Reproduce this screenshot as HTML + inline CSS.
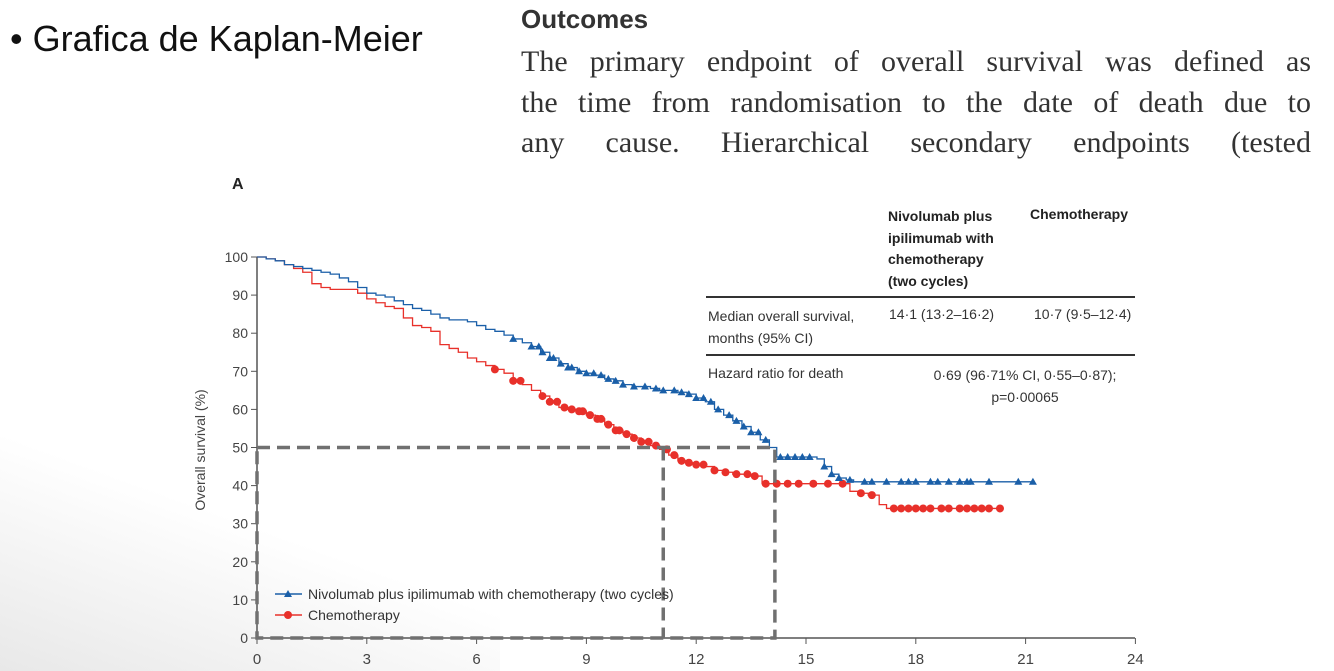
<!DOCTYPE html>
<html><head><meta charset="utf-8"><style>
body{margin:0;width:1334px;height:671px;overflow:hidden;background:#fff;font-family:"Liberation Sans",sans-serif;position:relative}
.abs{position:absolute}
.pl{position:absolute;left:521px;width:790px;font-family:"Liberation Serif",serif;font-size:30px;color:#333;text-align:justify;text-align-last:justify;white-space:nowrap;line-height:34px}
</style></head><body>
<div class="abs" style="left:0;top:420px;width:500px;height:251px;background:linear-gradient(20deg,#e8e8e8 0%,rgba(255,255,255,0) 55%)"></div>
<div class="abs" style="left:10px;top:18px;font-size:36px;color:#111">• Grafica de Kaplan-Meier</div>
<div class="abs" style="left:521px;top:4px;font-size:26px;font-weight:bold;color:#333">Outcomes</div>
<div>
<div class="pl" style="top:45px">The primary endpoint of overall survival was defined as</div>
<div class="pl" style="top:86px">the time from randomisation to the date of death due to</div>
<div class="pl" style="top:126px">any cause. Hierarchical secondary endpoints (tested</div>
</div>
<div class="abs" style="left:232px;top:176px;font-size:16px;font-weight:bold;color:#222">A</div>
<div class="abs" style="left:888px;top:206px;font-size:14px;font-weight:bold;line-height:21.5px;color:#222">Nivolumab plus<br>ipilimumab with<br>chemotherapy<br>(two cycles)</div>
<div class="abs" style="left:1030px;top:206px;font-size:14px;font-weight:bold;color:#222">Chemotherapy</div>
<div class="abs" style="left:706px;top:296px;width:429px;height:1.5px;background:#333"></div>
<div class="abs" style="left:708px;top:306px;font-size:14px;line-height:21.5px;color:#333">Median overall survival,<br>months (95% CI)</div>
<div class="abs" style="left:889px;top:306px;font-size:14px;color:#333">14·1 (13·2–16·2)</div>
<div class="abs" style="left:1034px;top:306px;font-size:14px;color:#333">10·7 (9·5–12·4)</div>
<div class="abs" style="left:706px;top:354px;width:429px;height:1.5px;background:#333"></div>
<div class="abs" style="left:708px;top:365px;font-size:14px;color:#333">Hazard ratio for death</div>
<div class="abs" style="left:880px;top:365px;width:290px;text-align:center;font-size:14px;line-height:21.5px;color:#333">0·69 (96·71% CI, 0·55–0·87);<br>p=0·00065</div>
<svg class="abs" style="left:0;top:0" width="1334" height="671" id="chart"></svg>
<script>
const xTicks=[0,3,6,9,12,15,18,21,24];
const yTicks=[0,10,20,30,40,50,60,70,80,90,100];
const nivoT=[0,0.25,0.5,0.75,1,1.25,1.5,1.75,2,2.25,2.5,2.75,3,3.25,3.5,3.75,4,4.25,4.5,4.75,5,5.25,5.5,5.75,6,6.25,6.5,6.75,7,7.25,7.5,7.75,8,8.25,8.5,8.75,9,9.25,9.5,9.75,10,10.25,10.5,10.75,11,11.25,11.5,11.75,12,12.25,12.5,12.75,13,13.25,13.5,13.75,14,14.2,15.3,15.5,15.7,15.9,16.1,16.3,21.2];
const nivoS=[100,99.5,99,98,97.5,97,96.5,96,95.5,94.5,93.5,92,90.5,90,89.5,88.5,87.5,86.5,86,85,84,83.5,83.5,83,82,81,80.5,79.5,78.5,77.5,76.5,75,73.5,72,71,70,69.5,69,68,67.5,66.5,66,66,65.5,65,65,64.5,64,63,62,60,58.5,57,55.5,54,52,50,47.5,47,45,43,42,41.5,41,41];
const nivoCens=[7,7.5,7.7,7.8,8,8.1,8.3,8.5,8.6,8.8,9,9.2,9.4,9.6,9.8,10,10.3,10.6,10.9,11.1,11.4,11.6,11.8,12,12.2,12.4,12.6,12.9,13.1,13.3,13.5,13.7,13.9,14.3,14.5,14.7,14.9,15.1,15.5,15.7,15.9,16.2,16.6,16.8,17.2,17.6,17.8,18,18.4,18.6,18.9,19.2,19.4,19.5,20,20.8,21.2];
const chemoT=[0,0.25,0.5,0.75,1,1.25,1.5,1.75,2,2.5,2.75,3,3.25,3.5,3.75,4,4.25,4.5,4.75,5,5.25,5.5,5.75,6,6.25,6.5,6.75,7,7.25,7.5,7.75,8,8.25,8.5,8.75,9,9.25,9.5,9.75,10,10.25,10.5,10.75,11,11.25,11.5,11.75,12,12.25,12.5,12.75,13,13.25,13.5,13.8,16,16.2,16.5,16.7,17,17.2,20.3];
const chemoS=[100,99.5,99,98,97,96,93,92,91.5,91.5,90.5,89,88,87,86.5,84,82,81.5,80.5,77,76,75,73.5,72.5,71.5,70.5,69.5,67.5,66.5,65,63.5,62,60.5,60,59.5,58.5,57.5,56,54.5,53.5,52.5,51.5,50.5,49.5,48,46.5,46,45.5,45,44,43.5,43,43,42.5,40.5,40.5,38.5,38,37.5,35,34,34];
const chemoCens=[6.5,7,7.2,7.8,8,8.2,8.4,8.6,8.8,8.9,9.1,9.3,9.4,9.6,9.8,9.9,10.1,10.3,10.5,10.7,10.9,11.2,11.4,11.6,11.8,12,12.2,12.5,12.8,13.1,13.4,13.6,13.9,14.2,14.5,14.8,15.2,15.6,16,16.5,16.8,17.4,17.6,17.8,18,18.2,18.4,18.7,18.9,19.2,19.4,19.6,19.8,20,20.3];
const X=t=>257+t*36.6, Y=s=>638-s*3.81;
const svg=document.getElementById('chart'),NS='http://www.w3.org/2000/svg';
function mk(tag,a){const e=document.createElementNS(NS,tag);for(const k in a)e.setAttribute(k,a[k]);svg.appendChild(e);return e;}
function step(T,S){let d='M'+X(T[0])+','+Y(S[0]);for(let i=1;i<T.length;i++){d+='H'+X(T[i])+'V'+Y(S[i]);}return d;}
function at(T,S,t){let s=S[0];for(let i=0;i<T.length;i++){if(T[i]<=t)s=S[i];}return s;}
let e=mk('line',{x1:257,y1:257,x2:257,y2:638,stroke:'#555','stroke-width':1.5});

e=mk('line',{x1:257,y1:638,x2:1135,y2:638,stroke:'#555','stroke-width':1.5});

yTicks.forEach(v=>{mk('line',{x1:251,y1:Y(v),x2:257,y2:Y(v),stroke:'#555'});
 const t=mk('text',{x:248,y:Y(v)+5,'text-anchor':'end','font-size':14,fill:'#444','font-family':'Liberation Sans'});t.textContent=v;
 });
xTicks.forEach(v=>{mk('line',{x1:X(v),y1:638,x2:X(v),y2:644,stroke:'#555'});
 const t=mk('text',{x:X(v),y:664,'text-anchor':'middle','font-size':15,fill:'#444','font-family':'Liberation Sans'});t.textContent=v;
 });
e=mk('text',{x:0,y:0,transform:'translate(205,450) rotate(-90)','text-anchor':'middle','font-size':14,fill:'#444','font-family':'Liberation Sans'});e.textContent='Overall survival (%)';

e=mk('path',{d:step(chemoT,chemoS),fill:'none',stroke:'#e8302a','stroke-width':1.3});

chemoCens.forEach(t=>{const c=mk('circle',{cx:X(t),cy:Y(at(chemoT,chemoS,t)),r:4,fill:'#e8302a'});
 });
e=mk('path',{d:step(nivoT,nivoS),fill:'none',stroke:'#1a5fa8','stroke-width':1.3});

nivoCens.forEach(t=>{const x=X(t),y=Y(at(nivoT,nivoS,t));const p=mk('polygon',{points:`${x-4},${y+3} ${x+4},${y+3} ${x},${y-4}`,fill:'#1a5fa8'});
 });
const dash={stroke:'#707070','stroke-width':3.5,'stroke-dasharray':'13 7',fill:'none'};
e=mk('path',Object.assign({d:`M${X(0)},${Y(50)}H${X(14.15)}V${Y(0)}H${X(0)}Z`},dash));

e=mk('path',Object.assign({d:`M${X(11.1)},${Y(50)}V${Y(0)}`},dash));

e=mk('line',{x1:275,y1:594,x2:302,y2:594,stroke:'#1a5fa8','stroke-width':1.5});
mk('polygon',{points:'284,597 292,597 288,590',fill:'#1a5fa8'});
e=mk('text',{x:308,y:599,'font-size':14,fill:'#333','font-family':'Liberation Sans'});e.textContent='Nivolumab plus ipilimumab with chemotherapy (two cycles)';

e=mk('line',{x1:275,y1:615,x2:302,y2:615,stroke:'#e8302a','stroke-width':1.5});
mk('circle',{cx:288,cy:615,r:4,fill:'#e8302a'});
e=mk('text',{x:308,y:620,'font-size':14,fill:'#333','font-family':'Liberation Sans'});e.textContent='Chemotherapy';

</script>
</body></html>
